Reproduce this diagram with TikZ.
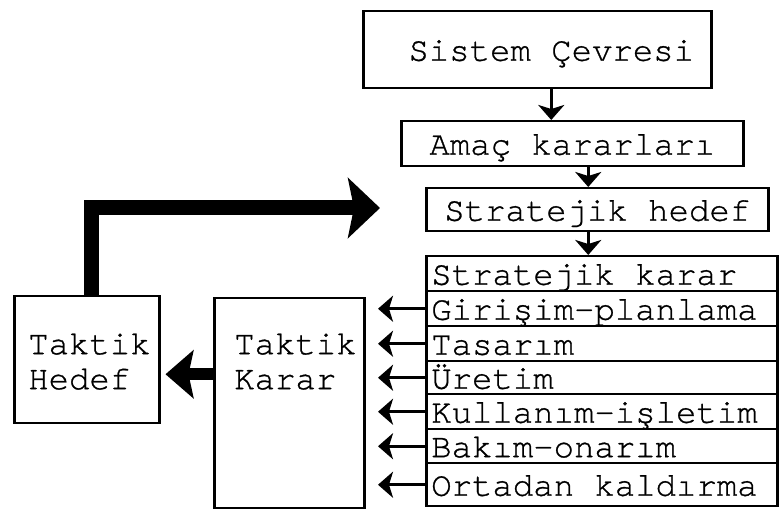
\documentclass[tikz,border=0pt]{standalone}
\usepackage{fontspec}
\setmonofont[FakeBold=0.8]{TeX Gyre Cursor}
\usetikzlibrary{arrows.meta,positioning}

\tikzset{
  kutu/.style={draw,line width=2.5pt,anchor=north west,inner ysep=0pt,inner xsep=0pt,
    font=\ttfamily\fontsize{34}{35}\selectfont,text height=22pt,text depth=0pt},
  ok/.style={line width=3pt,-{Stealth[length=15pt,width=26pt,inset=4pt]}},
  kalin/.style={line width=#1,line join=miter},
}

\begin{document}
\begin{tikzpicture}[x=1pt,y=-1pt]
  \useasboundingbox (0,0) rectangle (780,510);

  \node[kutu,minimum width=348,minimum height=77] (sistem) at (362,10) {\hspace*{28pt}Sistem Çevresi};
  \node[kutu,minimum width=342,minimum height=45] (amac) at (400,120) {Amaç kararları};
  \node[kutu,minimum width=342,minimum height=43] (hedef) at (425,187) {Stratejik hedef};

  % stratejik karar blogu
  \foreach \yazi/\ya/\yb [count=\i] in {%
    Stratejik karar/255/290,%
    Girişim-planlama/290/325,%
    Tasarım/325/360,%
    Üretim/360/393,%
    Kullanım-işletim/393/428,%
    Bakım-onarım/428/462,%
    Ortadan kaldırma/462/505%
  } {
    \node[kutu,minimum width=351,minimum height={\yb-\ya}] (r\i) at (425,\ya) {\makebox[341pt][l]{\yazi}};
  }

  \draw[ok] ([xshift=14pt]sistem.south) -- ([xshift=-21pt]amac.north);
  \draw[ok] ([xshift=16pt]amac.south) -- ([xshift=16pt]amac.south |- hedef.north);
  \draw[ok] ([xshift=-9pt]hedef.south) -- ([xshift=-9pt]hedef.south |- r1.north);

  \foreach \i in {2,...,7} {
    \coordinate[left=47pt of r\i.west] (a\i);
    \draw[ok] (r\i.west) -- (a\i);
  }

  % taktik kutular
  \node[kutu,minimum width=150,minimum height=210,text height=56pt,text depth=154pt,inner xsep=20pt]
    (karar) at (213,297) {\parbox[t]{110pt}{Taktik\\Karar}};
  \node[kutu,minimum width=145,minimum height=127,text height=58pt,text depth=69pt,inner xsep=14pt]
    (thedef) at (13,295) {\parbox[t]{117pt}{Taktik\\Hedef}};

  \draw[kalin=12pt,-{Stealth[length=28pt,width=48pt,inset=5pt]}]
    ([yshift=29pt]karar.west) -- ([yshift=29pt,xshift=5pt]karar.west -| thedef.east);

  \coordinate (ucu) at (380,208);
  \draw[kalin=15pt,-{Stealth[length=32pt,width=60pt,inset=6pt]}]
    ([xshift=5pt]thedef.north) |- (ucu);

\end{tikzpicture}
\end{document}
